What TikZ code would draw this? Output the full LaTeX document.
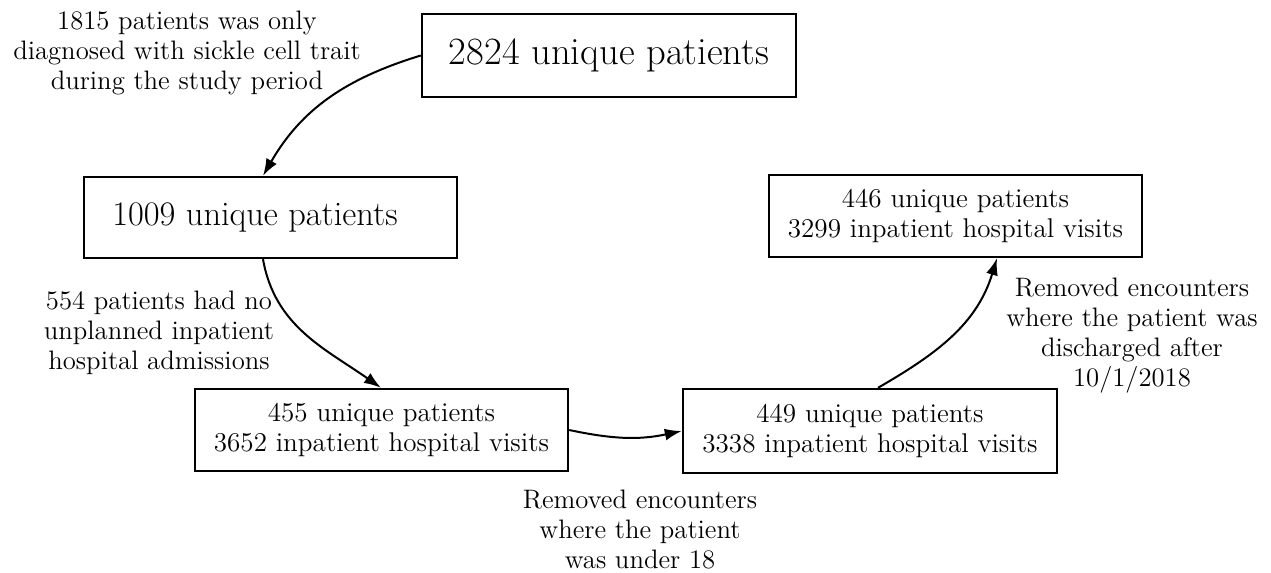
\documentclass[tikz,border=0pt]{standalone}
\usetikzlibrary{arrows.meta}
\begin{document}
\begin{tikzpicture}[x=0.5pt,y=-0.5pt,
  box/.style={draw, line width=1.2pt, inner sep=0pt, align=center, minimum width=186.5pt, minimum height=41pt},
  lbl/.style={align=center, inner sep=0pt, font=\fontsize{13.35}{15}\selectfont},
  conn/.style={line width=1pt, -{Latex[length=8.5pt,width=6pt]}},
  small/.style={font=\fontsize{13.55}{14.7}\selectfont}]
\useasboundingbox (0,0) rectangle (1271,573);
\node[box, minimum width=187pt, minimum height=41.5pt, font=\fontsize{19.3}{22}\selectfont] (A) at (609,55.5) {2824 unique patients};
\node[box, minimum height=40.5pt, font=\fontsize{17.2}{20}\selectfont] (B) at (270.5,217.5) {1009 unique patients\hspace{15.5pt}};
\node[box, small] (C) at (381.5,430) {455 unique patients\\3652 inpatient hospital visits};
\node[box, small, minimum width=187pt, minimum height=42pt] (D) at (870,431) {449 unique patients\\3338 inpatient hospital visits};
\node[box, small] (E) at (955.5,216) {446 unique patients\\3299 inpatient hospital visits};
\node[lbl] (L1) at (187,53) {1815 patients was only\\diagnosed with sickle cell trait\\during the study period};
\node[lbl] (L2) at (159,333) {554 patients had no\\unplanned inpatient\\hospital admissions};
\node[lbl] (L3) at (640,530) {Removed encounters\\where the patient\\was under 18};
\node[lbl] (L4) at (1132,336) {Removed encounters\\where the patient was\\discharged after\\10/1/2018};
\draw[conn] (A.west) to[out=197,in=60] ([xshift=-3.75pt]B.north);
\draw[conn] ([xshift=-3.75pt]B.south) to[out=-80,in=145] ([xshift=-0.25pt]C.north);
\draw[conn] (C.east) to[out=-12,in=192] (D.west);
\draw[conn] ([xshift=4pt]D.north) to[out=30,in=-107] ([xshift=20.75pt]E.south);
\end{tikzpicture}
\end{document}
